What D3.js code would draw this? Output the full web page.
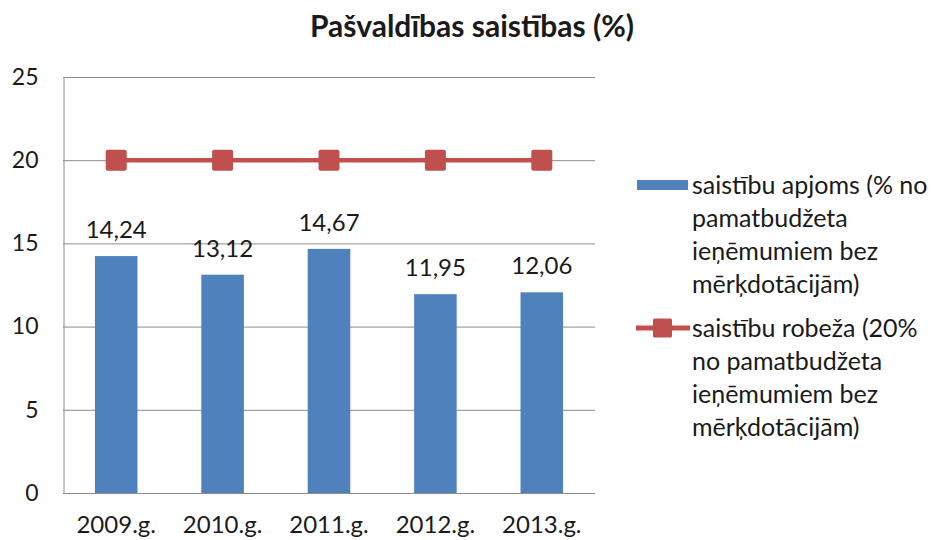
<!DOCTYPE html>
<html>
<head>
<meta charset="utf-8">
<script src="https://cdn.jsdelivr.net/npm/d3@7"></script>
<style>
  body { margin: 0; background: #fff; }
  svg text { font-family: Lato, "Open Sans", sans-serif; fill: #1a1a1a; }
</style>
</head>
<body>
<svg id="canvas" width="932" height="540"></svg>
<script>
// data
let years = ['2009.g.', '2010.g.', '2011.g.', '2012.g.', '2013.g.']
let apjoms = [14.24, 13.12, 14.67, 11.95, 12.06]
let robeza = [20, 20, 20, 20, 20]
let yTicks = [0, 5, 10, 15, 20, 25]
let legendBar = ['saistību apjoms (% no', 'pamatbudžeta', 'ieņēmumiem bez', 'mērķdotācijām)']
let legendLine = ['saistību robeža (20%', 'no pamatbudžeta', 'ieņēmumiem bez', 'mērķdotācijām)']

let canvas = d3.select('#canvas')

let plotLeft = 63, plotRight = 595, plotTop = 77, plotBottom = 493

let xScale = d3.scaleBand()
  .domain(years)
  .range([plotLeft, plotRight])
  .paddingInner(0.6)
  .paddingOuter(0.3)

let yScale = d3.scaleLinear()
  .domain([0, 25])
  .range([plotBottom, plotTop])

// title
canvas.append('text')
  .attr('x', 472)
  .attr('y', 37)
  .attr('text-anchor', 'middle')
  .style('font-size', '30px')
  .style('font-weight', 'bold')
  .text('Pašvaldības saistības (%)')

// gridlines
canvas.append('g')
  .selectAll('line')
  .data(yTicks)
  .enter()
  .append('line')
  .attr('x1', plotLeft)
  .attr('x2', plotRight)
  .attr('y1', (d) => yScale(d) + 0.5)
  .attr('y2', (d) => yScale(d) + 0.5)
  .attr('stroke', '#8c8c8c')
  .attr('stroke-width', 1)

// left axis
let yAxis = d3.axisLeft(yScale).tickValues(yTicks).tickSize(0).tickPadding(25)
let yG = canvas.append('g')
  .attr('transform', 'translate(' + (plotLeft + 0.5) + ',0)')
  .call(yAxis)
yG.select('.domain').attr('stroke', '#8c8c8c')
yG.selectAll('text')
  .style('font-size', '23px')
  .attr('fill', '#1a1a1a')

// x axis labels
let xAxis = d3.axisBottom(xScale).tickSize(0).tickPadding(23)
let xG = canvas.append('g')
  .attr('transform', 'translate(0,' + plotBottom + ')')
  .call(xAxis)
xG.select('.domain').remove()
xG.selectAll('text')
  .style('font-size', '24px')
  .attr('fill', '#1a1a1a')

// bars
canvas.append('g')
  .selectAll('rect')
  .data(apjoms)
  .enter()
  .append('rect')
  .attr('x', (d, i) => xScale(years[i]))
  .attr('y', (d) => yScale(d))
  .attr('width', xScale.bandwidth())
  .attr('height', (d) => plotBottom - yScale(d))
  .attr('fill', '#4f81bd')

// bar value labels
canvas.append('g')
  .selectAll('text')
  .data(apjoms)
  .enter()
  .append('text')
  .attr('x', (d, i) => xScale(years[i]) + xScale.bandwidth() / 2)
  .attr('y', (d) => yScale(d) - 18)
  .attr('text-anchor', 'middle')
  .style('font-size', '24px')
  .text((d) => d.toFixed(2).replace('.', ','))

// line
let line = d3.line()
  .x((d, i) => xScale(years[i]) + xScale.bandwidth() / 2)
  .y((d) => yScale(d))

canvas.append('path')
  .datum(robeza)
  .attr('d', line)
  .attr('fill', 'none')
  .attr('stroke', '#c0504d')
  .attr('stroke-width', 4.5)

canvas.append('g')
  .selectAll('rect')
  .data(robeza)
  .enter()
  .append('rect')
  .attr('x', (d, i) => xScale(years[i]) + xScale.bandwidth() / 2 - 10.5)
  .attr('y', (d) => yScale(d) - 10.5)
  .attr('width', 21)
  .attr('height', 21)
  .attr('rx', 2)
  .attr('fill', '#c0504d')

// legend
let legend = canvas.append('g')

legend.append('rect')
  .attr('x', 637)
  .attr('y', 180)
  .attr('width', 51)
  .attr('height', 10)
  .attr('fill', '#4f81bd')

legend.append('g')
  .selectAll('text')
  .data(legendBar)
  .enter()
  .append('text')
  .attr('x', 692)
  .attr('y', (d, i) => 194 + i * 33)
  .style('font-size', '25px')
  .text((d) => d)

legend.append('line')
  .attr('x1', 636)
  .attr('x2', 690)
  .attr('y1', 328)
  .attr('y2', 328)
  .attr('stroke', '#c0504d')
  .attr('stroke-width', 5)

legend.append('rect')
  .attr('x', 653)
  .attr('y', 318.5)
  .attr('width', 19)
  .attr('height', 19)
  .attr('rx', 1.5)
  .attr('fill', '#c0504d')

legend.append('g')
  .selectAll('text')
  .data(legendLine)
  .enter()
  .append('text')
  .attr('x', 692)
  .attr('y', (d, i) => 337 + i * 33)
  .style('font-size', '25px')
  .text((d) => d)
</script>
</body>
</html>
